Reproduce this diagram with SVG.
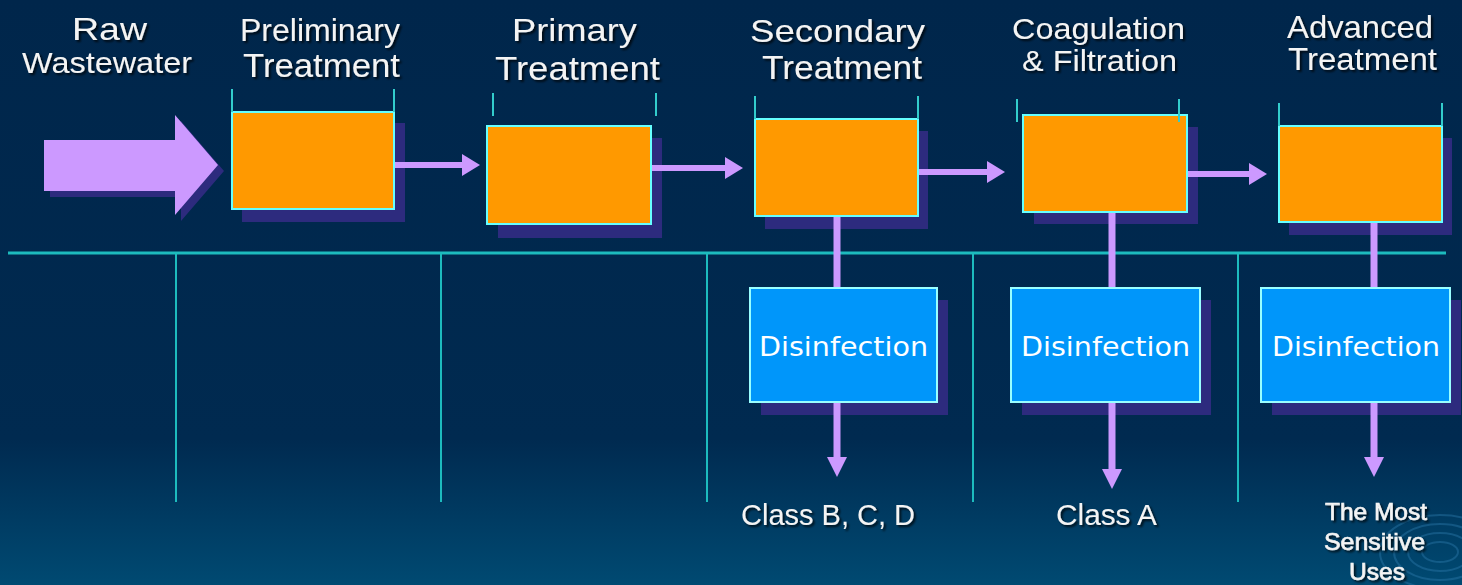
<svg xmlns="http://www.w3.org/2000/svg" width="1462" height="585" viewBox="0 0 1462 585">
<defs>
<linearGradient id="bg" x1="0" y1="0" x2="0" y2="1">
<stop offset="0" stop-color="#00264B"/>
<stop offset="0.75" stop-color="#002A50"/>
<stop offset="1" stop-color="#004A72"/>
</linearGradient>
<filter id="ts" x="-10%" y="-30%" width="130%" height="160%">
<feDropShadow dx="2" dy="2" stdDeviation="1" flood-color="#000" flood-opacity="0.75"/>
</filter>
<marker id="ah" viewBox="0 0 18 22" refX="0" refY="11" markerWidth="18" markerHeight="22" markerUnits="userSpaceOnUse" orient="auto">
<path d="M0,0 L18,11 L0,22 Z" fill="#CC99FF"/>
</marker>
<marker id="av" viewBox="0 0 20 20" refX="0" refY="10" markerWidth="20" markerHeight="20" markerUnits="userSpaceOnUse" orient="auto">
<path d="M0,0 L20,10 L0,20 Z" fill="#CC99FF"/>
</marker>
</defs>
<style>
.title{font-family:"Liberation Sans",Arial,sans-serif;fill:#F4F4F4;filter:url(#ts)}
.lbl{font-family:"Liberation Sans",Arial,sans-serif;fill:#F4F4F4;filter:url(#ts)}
.dis{font-family:"DejaVu Sans",Verdana,sans-serif;font-size:27px;fill:#FFFFFF}
.tank{fill:#FF9900;stroke:#66FFFF;stroke-width:2}
.shadow{fill:#2D2B7E}
.brk{stroke:#33CCCC;stroke-width:2;fill:none}
.dbox{fill:#0096FA;stroke:#99FFFF;stroke-width:2}
.grid{stroke:#1DBBBE;fill:none}
.flow{stroke:#CC99FF;stroke-width:6;fill:none}
.vflow{stroke:#CC99FF;stroke-width:7;fill:none}
.ripple{fill:none;stroke:#2A78A8;stroke-width:2;opacity:0.45}
.uses{font-size:24px;stroke:#F4F4F4;stroke-width:0.6}
</style>
<rect x="0" y="0" width="1462" height="585" fill="url(#bg)"/>
<g id="ripples">
<ellipse class="ripple" cx="1440" cy="552" rx="18" ry="10"/>
<ellipse class="ripple" cx="1440" cy="552" rx="32" ry="19"/>
<ellipse class="ripple" cx="1440" cy="552" rx="46" ry="28"/>
<ellipse class="ripple" cx="1440" cy="552" rx="60" ry="37"/>
</g>
<g id="grid-lines">
<line class="grid" x1="8" y1="253" x2="1446" y2="253" stroke-width="3"/>
<line class="grid" x1="176" y1="253" x2="176" y2="502" stroke-width="2"/>
<line class="grid" x1="441" y1="253" x2="441" y2="502" stroke-width="2"/>
<line class="grid" x1="707" y1="253" x2="707" y2="502" stroke-width="2"/>
<line class="grid" x1="973" y1="253" x2="973" y2="502" stroke-width="2"/>
<line class="grid" x1="1238" y1="253" x2="1238" y2="502" stroke-width="2"/>
</g>
<g id="raw-wastewater">
<path d="M50,146 L181,146 L181,121 L224,171 L181,221 L181,197 L50,197 Z" class="shadow"/>
<path d="M44,140 L175,140 L175,115 L218,165 L175,215 L175,191 L44,191 Z" fill="#CC99FF"/>
<text class="title" x="72" y="40" font-size="32" textLength="75" lengthAdjust="spacingAndGlyphs">Raw</text>
<text class="title" x="22" y="73" font-size="29" textLength="170" lengthAdjust="spacingAndGlyphs">Wastewater</text>
</g>
<g id="preliminary">
<rect class="shadow" x="242" y="123" width="163" height="99"/>
<rect class="tank" x="232" y="112" width="162" height="97"/>
<path class="brk" d="M232,89 V112 M394,89 V112"/>
<text class="title" x="240" y="41" font-size="31" textLength="160" lengthAdjust="spacingAndGlyphs">Preliminary</text>
<text class="title" x="243" y="77" font-size="33" textLength="157" lengthAdjust="spacingAndGlyphs">Treatment</text>
</g>
<g id="primary">
<rect class="shadow" x="498" y="138" width="164" height="100"/>
<rect class="tank" x="487" y="126" width="164" height="98"/>
<path class="brk" d="M493,93 V116 M656,93 V116"/>
<text class="title" x="512" y="41" font-size="32" textLength="125" lengthAdjust="spacingAndGlyphs">Primary</text>
<text class="title" x="495" y="80" font-size="34" textLength="165" lengthAdjust="spacingAndGlyphs">Treatment</text>
</g>
<g id="secondary">
<rect class="shadow" x="765" y="131" width="163" height="98"/>
<rect class="tank" x="755" y="119" width="163" height="97"/>
<path class="brk" d="M755,96 V119 M918,96 V119"/>
<text class="title" x="750" y="42" font-size="32" textLength="175" lengthAdjust="spacingAndGlyphs">Secondary</text>
<text class="title" x="762" y="79" font-size="33" textLength="160" lengthAdjust="spacingAndGlyphs">Treatment</text>
</g>
<g id="coagulation">
<rect class="shadow" x="1034" y="127" width="164" height="97"/>
<rect class="tank" x="1023" y="115" width="164" height="97"/>
<path class="brk" d="M1017,99 V122 M1179,99 V122"/>
<text class="title" x="1012" y="39" font-size="30" textLength="173" lengthAdjust="spacingAndGlyphs">Coagulation</text>
<text class="title" x="1022" y="71" font-size="30" textLength="155" lengthAdjust="spacingAndGlyphs">&amp; Filtration</text>
</g>
<g id="advanced">
<rect class="shadow" x="1289" y="138" width="163" height="97"/>
<rect class="tank" x="1279" y="126" width="163" height="96"/>
<path class="brk" d="M1279,103 V126 M1442,103 V126"/>
<text class="title" x="1287" y="38" font-size="32" textLength="146" lengthAdjust="spacingAndGlyphs">Advanced</text>
<text class="title" x="1288" y="70" font-size="31" textLength="149" lengthAdjust="spacingAndGlyphs">Treatment</text>
</g>
<g id="disinfection-1">
<rect class="shadow" x="761" y="300" width="187" height="115"/>
<rect class="dbox" x="750" y="288" width="187" height="114"/>
<text class="dis" x="759" y="356" textLength="169" lengthAdjust="spacingAndGlyphs">Disinfection</text>
</g>
<g id="disinfection-2">
<rect class="shadow" x="1022" y="300" width="189" height="115"/>
<rect class="dbox" x="1011" y="288" width="189" height="114"/>
<text class="dis" x="1021" y="356" textLength="169" lengthAdjust="spacingAndGlyphs">Disinfection</text>
</g>
<g id="disinfection-3">
<rect class="shadow" x="1272" y="300" width="189" height="115"/>
<rect class="dbox" x="1261" y="288" width="189" height="114"/>
<text class="dis" x="1272" y="356" textLength="168" lengthAdjust="spacingAndGlyphs">Disinfection</text>
</g>
<g id="connectors">
<line class="flow" x1="395" y1="165" x2="462" y2="165" marker-end="url(#ah)"/>
<line class="flow" x1="652" y1="168" x2="725" y2="168" marker-end="url(#ah)"/>
<line class="flow" x1="919" y1="172" x2="987" y2="172" marker-end="url(#ah)"/>
<line class="flow" x1="1188" y1="174" x2="1249" y2="174" marker-end="url(#ah)"/>
<line class="vflow" x1="837" y1="217" x2="837" y2="287"/>
<line class="vflow" x1="1112" y1="213" x2="1112" y2="287"/>
<line class="vflow" x1="1374" y1="223" x2="1374" y2="287"/>
<line class="vflow" x1="837" y1="403" x2="837" y2="457" marker-end="url(#av)"/>
<line class="vflow" x1="1112" y1="403" x2="1112" y2="469" marker-end="url(#av)"/>
<line class="vflow" x1="1374" y1="403" x2="1374" y2="457" marker-end="url(#av)"/>
</g>
<g id="outputs">
<text class="lbl" x="741" y="525" font-size="29" textLength="174" lengthAdjust="spacingAndGlyphs">Class B, C, D</text>
<text class="lbl" x="1056" y="525" font-size="29" textLength="101" lengthAdjust="spacingAndGlyphs">Class A</text>
<text class="lbl uses" x="1325" y="520" textLength="102" lengthAdjust="spacingAndGlyphs">The Most</text>
<text class="lbl uses" x="1324" y="550" textLength="101" lengthAdjust="spacingAndGlyphs">Sensitive</text>
<text class="lbl uses" x="1349" y="580" textLength="56" lengthAdjust="spacingAndGlyphs">Uses</text>
</g>
</svg>
